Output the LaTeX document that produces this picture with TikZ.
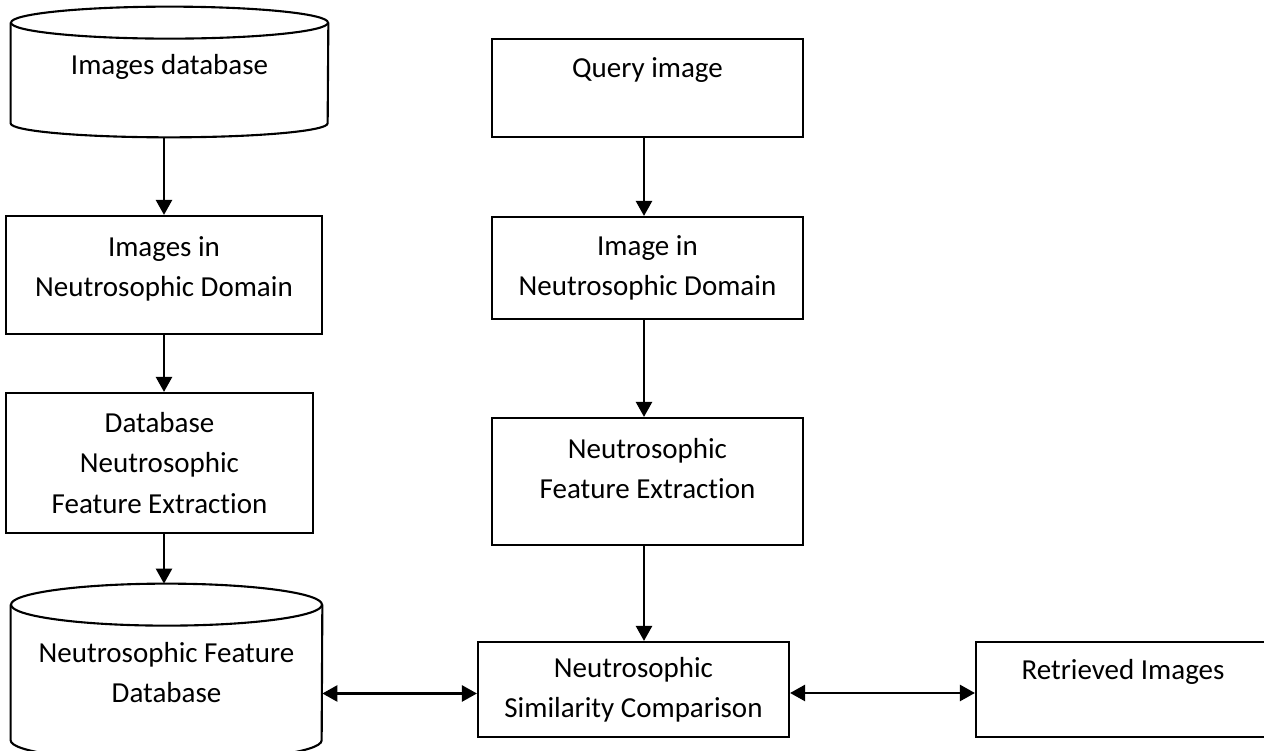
\documentclass[tikz,border=0pt]{standalone}
\usepackage{fontspec}
\setmainfont{Carlito}[Ligatures=NoCommon]
\usetikzlibrary{arrows.meta}

\begin{document}
\begin{tikzpicture}[
    every node/.style={font=\fontsize{16.5}{22.8}\selectfont, align=center},
    block/.style={draw, line width=1.2pt, minimum width=6.22cm, inner sep=0pt},
    cylbody/.style={minimum width=#1, inner sep=0pt},
    flow/.style={line width=1.4pt, -{Triangle[width=0.32cm, length=0.3cm]}},
    both/.style={line width=1.4pt, {Triangle[width=0.32cm, length=0.3cm]}-{Triangle[width=0.32cm, length=0.3cm]}}
]
    % Page frame
    \clip (0, 0) rectangle (25.28, 15.02);
    \fill[white] (0, 0) rectangle (25.28, 15.02);

    % LEFT: database side
    \node[cylbody=6.34cm, minimum height=2.6cm] (imgdb) at (3.39, 13.58) {Images database\\[-0.5cm]\mbox{}};
    \draw[line width=1.2pt] ([yshift=-0.32cm]imgdb.north) ellipse (3.17cm and 0.32cm);
    \draw[line width=1.2pt] ([yshift=-0.32cm]imgdb.north west) -- ([yshift=0.28cm]imgdb.south west)
        arc (180:360:3.17cm and 0.28cm) -- ([yshift=-0.32cm]imgdb.north east);

    \node[block, minimum width=6.32cm, minimum height=2.36cm] (dbdom) at (3.28, 9.52) {Images in\\Neutrosophic Domain\\[-0.48cm]\mbox{}};
    \node[block, minimum width=6.14cm, minimum height=2.8cm] (dbfeat) at (3.19, 5.76) {Database\\Neutrosophic\\Feature Extraction};

    \node[cylbody=6.22cm, minimum height=3.54cm] (nfdb) at (3.33, 1.57) {Neutrosophic Feature\\Database};
    \draw[line width=1.2pt] ([yshift=-0.42cm]nfdb.north) ellipse (3.11cm and 0.42cm);
    \draw[line width=1.2pt] ([yshift=-0.42cm]nfdb.north west) -- ([yshift=0.42cm]nfdb.south west)
        arc (180:360:3.11cm and 0.42cm) -- ([yshift=-0.42cm]nfdb.north east);

    % MIDDLE: query side
    \node[block, minimum height=1.96cm] (query) at (12.95, 13.26) {Query image\\\mbox{}};
    \node[block, minimum height=2.04cm] (qdom) at (12.95, 9.66) {Image in\\Neutrosophic Domain};
    \node[block, minimum height=2.54cm] (qfeat) at (12.95, 5.39) {Neutrosophic\\Feature Extraction\\[-0.28cm]\mbox{}};
    \node[block, minimum height=1.9cm] (cmp) at (12.67, 1.23) {Neutrosophic\\Similarity Comparison};

    % RIGHT: result
    \node[block, minimum width=5.88cm, minimum height=1.9cm] (ret) at (22.46, 1.23) {Retrieved Images\\\mbox{}};

    % Flow arrows
    \draw[flow] (imgdb.south -| dbdom.north) -- (dbdom.north);
    \draw[flow] (dbdom.south) -- (dbdom.south |- dbfeat.north);
    \draw[flow] (dbfeat.south -| dbdom.south) -- (dbdom.south |- nfdb.north);
    \draw[flow] ([xshift=-0.07cm]query.south) -- ([xshift=-0.07cm]qdom.north);
    \draw[flow] ([xshift=-0.07cm]qdom.south) -- ([xshift=-0.07cm]qfeat.north);
    \draw[flow] ([xshift=-0.07cm]qfeat.south) -- ([xshift=-0.07cm]qfeat.south |- cmp.north);

    % Two-way links
    \draw[both] ([yshift=-0.08cm]nfdb.east |- cmp.west) -- ([yshift=-0.08cm]cmp.west);
    \draw[both] ([yshift=-0.07cm]cmp.east) -- ([yshift=-0.07cm]ret.west);
\end{tikzpicture}
\end{document}
